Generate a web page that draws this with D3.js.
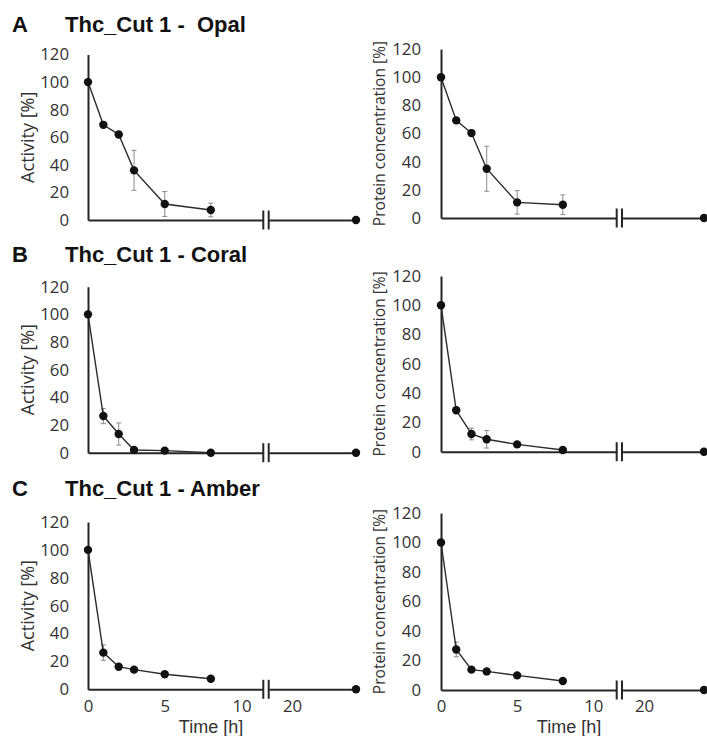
<!DOCTYPE html>
<html><head><meta charset="utf-8">
<script src="https://cdn.jsdelivr.net/npm/d3@7"></script>
<style>
html,body{margin:0;padding:0;background:#fff;}
svg{display:block;}
</style></head>
<body>
<svg id="chart" width="707" height="736"></svg>
<script>
// ---------- data ----------
const times = [0, 1, 2, 3, 5, 8, 24];
const yTicks = [0, 20, 40, 60, 80, 100, 120];
const xTicks = [0, 5, 10, 20];
const panelLetters = ["A", "B", "C"];
const panelTitles = ["Thc_Cut 1 -  Opal", "Thc_Cut 1 - Coral", "Thc_Cut 1 - Amber"];
const yTitles = ["Activity [%]", "Protein concentration [%]"];
const xTitle = "Time [h]";

const activityOpal     = [100, 69, 62, 36, 11.6, 7.3, 0];
const activityOpalErr  = [0, 2, 2, 14.5, 9, 5, 0];
const proteinOpal      = [100, 69.3, 60.3, 35, 11.1, 9.4, 0];
const proteinOpalErr   = [0, 2, 2, 16, 8.3, 7, 0];
const activityCoral    = [100, 26.5, 13.5, 2, 1.5, 0, 0];
const activityCoralErr = [0, 5.5, 8, 1, 0.5, 0, 0];
const proteinCoral     = [100, 28.3, 12.1, 8.5, 5, 1.2, 0];
const proteinCoralErr  = [0, 2, 4, 6, 1, 0.5, 0];
const activityAmber    = [100, 26.3, 16.2, 14.1, 10.8, 7.6, 0];
const activityAmberErr = [0, 5.5, 1, 1, 1, 1, 0];
const proteinAmber     = [100, 27.5, 13.8, 12.6, 9.9, 6.1, 0];
const proteinAmberErr  = [0, 5, 1, 1, 1, 1, 0];

const seriesGrid = [
  [[activityOpal, activityOpalErr], [proteinOpal, proteinOpalErr]],
  [[activityCoral, activityCoralErr], [proteinCoral, proteinCoralErr]],
  [[activityAmber, activityAmberErr], [proteinAmber, proteinAmberErr]]
];

// ---------- layout ----------
const cols = [
  {x0: 88,  x10: 241.5, b1: 263.3, b2: 268.7, x20: 292, x24: 356, titleX: 28, titleSize: 18, tickPad: 19, xTitleX: 211},
  {x0: 441, x10: 593.3, b1: 616.7, b2: 622,   x20: 644, x24: 704, titleX: 380, titleSize: 15.6, tickPad: 20, xTitleX: 569}
];
const rows = [
  {titleY: 32.3, y0: [220, 218],   y120: [54.5, 49]},
  {titleY: 261.7, y0: [452.7, 451.7], y120: [286.7, 276]},
  {titleY: 496, y0: [689.3, 690], y120: [522, 513]}
];

const svg = d3.select("#chart");
const textColor = "#333";
const axisColor = "#262626";

rows.forEach((row, ri) => {
  svg.append("text").attr("x", 12).attr("y", row.titleY)
    .attr("font-family", "Liberation Sans, Arial, sans-serif").attr("font-weight", "bold")
    .attr("font-size", 22).attr("fill", "#111").text(panelLetters[ri]);
  svg.append("text").attr("x", 65).attr("y", row.titleY)
    .attr("font-family", "Liberation Sans, Arial, sans-serif").attr("font-weight", "bold")
    .attr("font-size", 22).attr("fill", "#111").style("white-space", "pre")
    .text(panelTitles[ri]);

  cols.forEach((c, ci) => {
    const [vals, errs] = seriesGrid[ri][ci];
    const y = d3.scaleLinear().domain([0, 120]).range([row.y0[ci], row.y120[ci]]);
    const xL = d3.scaleLinear().domain([0, 10]).range([c.x0, c.x10]);
    const xR = d3.scaleLinear().domain([20, 24]).range([c.x20, c.x24]);
    const x = t => t <= 12 ? xL(t) : xR(t);
    const g = svg.append("g");

    // y axis
    const yAxis = g.append("g").attr("transform", `translate(${c.x0},0)`)
      .call(d3.axisLeft(y).tickValues(yTicks).tickSize(0).tickPadding(c.tickPad));
    yAxis.select(".domain").attr("stroke", axisColor).attr("stroke-width", 2);
    yAxis.selectAll("text").attr("font-family", "Open Sans, sans-serif").attr("font-size", 16.8).attr("fill", textColor);

    // x axis (two segments)
    const yBase = row.y0[ci];
    const xLAxis = d3.scaleLinear().domain([0, xL.invert(c.b1)]).range([c.x0, c.b1]);
    const xRAxis = d3.scaleLinear().domain([xR.invert(c.b2), 24]).range([c.b2, c.x24]);
    const showLabels = ri === rows.length - 1;
    [[xLAxis, xTicks.filter(t => t <= 10)], [xRAxis, xTicks.filter(t => t > 10)]].forEach(([sc, tv]) => {
      const ax = g.append("g").attr("transform", `translate(0,${yBase})`)
        .call(d3.axisBottom(sc).tickValues(showLabels ? tv : []).tickSize(0).tickPadding(10.3).tickFormat(d3.format("d")));
      ax.select(".domain").attr("stroke", axisColor).attr("stroke-width", 2);
      ax.selectAll("text").attr("font-family", "Open Sans, sans-serif").attr("font-size", 16.8).attr("fill", textColor);
    });
    // break marks
    [c.b1, c.b2].forEach(bx => {
      g.append("line").attr("x1", bx).attr("x2", bx).attr("y1", yBase - 9.5).attr("y2", yBase + 9.5)
        .attr("stroke", axisColor).attr("stroke-width", 2);
    });

    // y title
    const ym = (row.y0[ci] + row.y120[ci]) / 2;
    g.append("text").attr("transform", `translate(${c.titleX},${ym}) rotate(-90)`)
      .attr("text-anchor", "middle").attr("dy", "0.35em")
      .attr("font-family", "Open Sans, sans-serif").attr("font-size", c.titleSize).attr("fill", textColor)
      .text(yTitles[ci]);

    // x title
    if (showLabels) {
      g.append("text").attr("x", c.xTitleX).attr("y", 733)
        .attr("text-anchor", "middle")
        .attr("font-family", "Liberation Sans, Arial, sans-serif").attr("font-size", 18).attr("fill", textColor)
        .text(xTitle);
    }

    const pts = times.map((t, i) => ({t, v: vals[i], e: errs[i]}));

    // error bars
    pts.filter(p => p.e > 0).forEach(p => {
      const cx = x(p.t);
      g.append("line").attr("x1", cx).attr("x2", cx).attr("y1", y(p.v - p.e)).attr("y2", y(p.v + p.e))
        .attr("stroke", "#8a8a8a").attr("stroke-width", 1);
      [p.v - p.e, p.v + p.e].forEach(v => {
        g.append("line").attr("x1", cx - 2.5).attr("x2", cx + 2.5).attr("y1", y(v)).attr("y2", y(v))
          .attr("stroke", "#8a8a8a").attr("stroke-width", 1);
      });
    });

    // line (first segment only)
    const linePts = pts.filter(p => p.t <= 10);
    g.append("path").datum(linePts)
      .attr("d", d3.line().x(p => x(p.t)).y(p => y(p.v)))
      .attr("fill", "none").attr("stroke", "#2b2b2b").attr("stroke-width", 1.4);

    // markers
    g.selectAll("circle.m").data(pts).enter().append("circle")
      .attr("cx", p => x(p.t)).attr("cy", p => y(p.v)).attr("r", 4.2)
      .attr("fill", "#111");
  });
});
</script>
</body></html>
